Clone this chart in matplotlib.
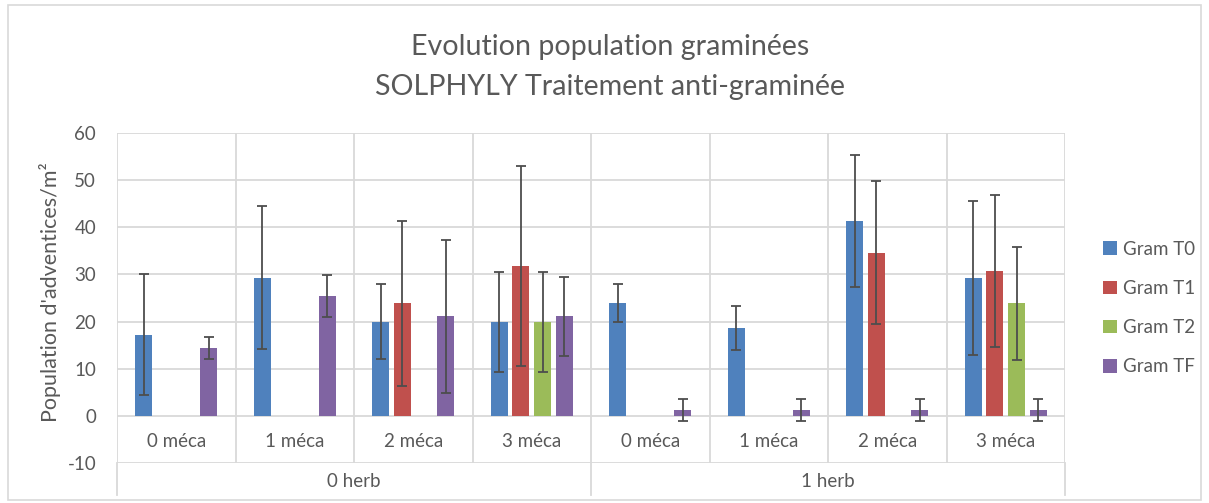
import numpy as np
import matplotlib.pyplot as plt
from matplotlib.patches import Rectangle

plt.rcParams['font.family'] = ['Lato', 'DejaVu Sans']
plt.rcParams['axes.unicode_minus'] = False

# data
meca = ['0 méca', '1 méca', '2 méca', '3 méca'] * 2
herb = ['0 herb', '1 herb']
series = ['Gram T0', 'Gram T1', 'Gram T2', 'Gram TF']
colors = ['#4f81bd', '#c0504d', '#9bbb59', '#8064a2']

gram_t0 = [17.2, 29.3, 20.0, 20.0, 23.9, 18.6, 41.4, 29.2]
gram_t1 = [np.nan, np.nan, 23.9, 31.8, np.nan, np.nan, 34.6, 30.7]
gram_t2 = [np.nan, np.nan, np.nan, 20.0, np.nan, np.nan, np.nan, 23.9]
gram_tf = [14.4, 25.4, 21.1, 21.1, 1.2, 1.2, 1.2, 1.2]

err_t0 = [12.8, 15.2, 8.0, 10.6, 4.0, 4.6, 14.0, 16.3]
err_t1 = [np.nan, np.nan, 17.5, 21.3, np.nan, np.nan, 15.2, 16.2]
err_t2 = [np.nan, np.nan, np.nan, 10.6, np.nan, np.nan, np.nan, 12.0]
err_tf = [2.3, 4.5, 16.2, 8.4, 2.3, 2.3, 2.3, 2.3]

values = [gram_t0, gram_t1, gram_t2, gram_tf]
errors = [err_t0, err_t1, err_t2, err_tf]

W, H = 1209, 503
fig = plt.figure(figsize=(W / 100, H / 100), dpi=100)
ax = fig.add_axes([117 / W, 1 - 463 / H, (1065 - 117) / W, (463 - 133) / H])

grid = '#d9d9d9'
txt = '#595959'

# frame around the whole chart
fig.patches.append(Rectangle((8 / W, 3 / H), (1201 - 8) / W, (498 - 3) / H,
                             transform=fig.transFigure, fill=False,
                             edgecolor=grid, lw=1.2))

x = np.arange(len(meca))
step = 0.183
bw = 0.143
for i, (vals, errs) in enumerate(zip(values, errors)):
    pos = x + 0.5 + (i - 1.5) * step
    ax.bar(pos, vals, bw, color=colors[i], label=series[i], zorder=3)
    ax.errorbar(pos, vals, yerr=errs, fmt='none', ecolor='#4d4d4d',
                elinewidth=1.3, capsize=3.5, capthick=1.3, zorder=4)

ax.set_xlim(0, 8)
ax.set_ylim(-10, 60)
for v in range(-10, 61, 10):
    ax.axhline(v, color=grid, lw=1.3, zorder=1)
for b in range(0, 9):
    ax.axvline(b, color=grid, lw=1.3, zorder=1)

for s in ax.spines.values():
    s.set_visible(False)
ax.set_xticks([])
ax.set_yticks(range(-10, 61, 10))
ax.tick_params(axis='y', length=0, pad=15, labelsize=13.5, labelcolor=txt)

# category labels
for i, m in enumerate(meca):
    ax.text(i + 0.5, -5.4, m, ha='center', va='center', fontsize=13.5, color=txt)
for j, h in enumerate(herb):
    ax.text(j * 4 + 2, -14.0, h, ha='center', va='center', fontsize=13.5,
            color=txt, clip_on=False)
for b in [0, 4, 8]:
    ax.plot([b, b], [-10, -16.7], color=grid, lw=1.3, clip_on=False)

fig.text(50 / W, 1 - 292 / H, "Population d'adventices/m²", rotation=90,
         ha='center', va='center', fontsize=15.5, color=txt)

fig.text(610 / W, 1 - 47 / H, 'Evolution population graminées',
         ha='center', va='center', fontsize=20.6, color=txt)
fig.text(610 / W, 1 - 87 / H, 'SOLPHYLY Traitement anti-graminée',
         ha='center', va='center', fontsize=20.6, color=txt)

fig.legend(loc='upper left', bbox_to_anchor=(1086 / W, 1 - 224 / H),
           frameon=False, fontsize=13.5, labelcolor=txt,
           handlelength=0.75, handleheight=0.75, handletextpad=0.3,
           labelspacing=1.18)

fig.savefig('out.png', dpi=100)
